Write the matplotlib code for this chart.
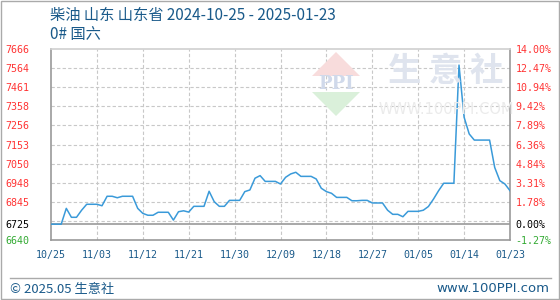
import datetime as dt

import matplotlib
matplotlib.use("Agg")
import matplotlib.pyplot as plt
import numpy as np
from matplotlib.patches import Polygon

plt.rcParams["font.family"] = ["DejaVu Sans", "Noto Sans CJK SC"]
CJK = ["Noto Sans CJK SC", "DejaVu Sans"]
MONO = "DejaVu Sans Mono"

TITLE = "柴油 山东 山东省 2024-10-25 - 2025-01-23"
SUBTITLE = "0# 国六"
START = dt.date(2024, 10, 25)

# daily price, 2024-10-25 .. 2025-01-23
prices = [
    6725, 6725, 6725, 6810, 6762, 6762, 6800, 6832, 6832, 6832,
    6824, 6875, 6875, 6867, 6875, 6875, 6875, 6810, 6783, 6773,
    6773, 6789, 6789, 6789, 6747, 6792, 6797, 6790, 6821, 6821,
    6821, 6902, 6846, 6821, 6821, 6853, 6853, 6853, 6900, 6909,
    6972, 6986, 6955, 6955, 6955, 6941, 6977, 6995, 7004, 6982,
    6982, 6982, 6968, 6918, 6900, 6891, 6869, 6869, 6869, 6851,
    6851, 6853, 6853, 6839, 6839, 6839, 6800, 6778, 6778, 6765,
    6794, 6794, 6794, 6800, 6820, 6860, 6905, 6945, 6945, 6945,
    7580, 7300, 7210, 7177, 7177, 7177, 7177, 7030, 6959, 6941,
    6905,
]
BASE = 6725

left_labels = ["7666", "7564", "7461", "7358", "7256", "7153", "7050",
               "6948", "6845", "6725", "6640"]
right_labels = ["14.00%", "12.47%", "10.94%", "9.42%", "7.89%", "6.36%",
                "4.84%", "3.31%", "1.78%", "0.00%", "-1.27%"]
x_labels = ["10/25", "11/03", "11/12", "11/21", "11/30", "12/09", "12/18",
            "12/27", "01/05", "01/14", "01/23"]

dates = [START + dt.timedelta(days=i) for i in range(len(prices))]
tick_dates = [START + dt.timedelta(days=9 * i) for i in range(len(x_labels))]

RED = "#ff3333"
GREEN = "#33aa33"
BLUE_TXT = "#1a5a8a"
LINE = "#3a9ad9"
GRID = "#c8c8c8"
FRAME = "#999999"


def fx(px):
    return px / 560


def fy(py):
    return 1 - py / 300


fig = plt.figure(figsize=(5.6, 3.0), dpi=100)
ax = fig.add_axes([fx(51), 0.2, 459 / 560, 191 / 300])
ymin, ymax = 6640, 7666.5
ax.set_ylim(ymin, ymax)
ax.set_xlim(dates[0], dates[-1])

# watermark (logo + site name)
wm = dict(transform=fig.transFigure, zorder=0)
fig.patches.append(Polygon([(fx(312), fy(76)), (fx(336), fy(52)), (fx(360), fy(76))],
                           closed=True, facecolor="#f8dcdc", edgecolor="none", **wm))
fig.patches.append(Polygon([(fx(312), fy(92)), (fx(336), fy(116)), (fx(360), fy(92))],
                           closed=True, facecolor="#daf0da", edgecolor="none", **wm))
fig.text(fx(336), fy(84), "PPI", ha="center", va="center", fontsize=13,
         fontweight="bold", color="#d0d9ea", family="DejaVu Serif", **wm)
fig.text(fx(446), fy(72), "生 意 社", ha="center", va="center", fontsize=24,
         fontweight="bold", color="#dfe4ee", family=CJK, **wm)
fig.text(fx(446), fy(110), "WWW.100PPI.COM", ha="center", va="center",
         fontsize=10.5, color="#ebebeb", **wm)
ax.patch.set_alpha(0)

# grid
for yv in np.linspace(ymin, ymax, 11)[1:-1]:
    ax.axhline(yv, color=GRID, lw=0.8, ls=(0, (3, 2)), zorder=1)
for d in tick_dates[1:-1]:
    ax.axvline(d, color=GRID, lw=0.8, ls=(0, (3, 2)), zorder=1)
ax.axhline(BASE, color=FRAME, lw=1.2, zorder=2)

ax.plot(dates, prices, color=LINE, lw=1.1, zorder=3)

for s in ax.spines.values():
    s.set_color(FRAME)
    s.set_linewidth(1.2)
ax.spines["top"].set_color("#d0d0d0")

ax.set_xticks(tick_dates)
ax.set_xticklabels(x_labels, color=BLUE_TXT, fontsize=7.2, family=MONO)
ax.tick_params(axis="x", length=0, pad=7)

ax.set_yticks([float(v) for v in left_labels])
ax.set_yticklabels(left_labels, fontsize=7.2, family=MONO, ha="left")
ax.tick_params(axis="y", length=0, pad=33)
for lbl in ax.get_yticklabels():
    t = lbl.get_text()
    lbl.set_color("black" if t == str(BASE) else GREEN if t == "6640" else RED)

ax2 = ax.twinx()
ax2.set_ylim((ymin / BASE - 1) * 100, (ymax / BASE - 1) * 100)
ax2.set_yticks([float(v.rstrip("%")) for v in right_labels])
ax2.set_yticklabels(right_labels, fontsize=7.2, family=MONO)
ax2.tick_params(axis="y", length=0, pad=4)
for s in ax2.spines.values():
    s.set_visible(False)
for lbl in ax2.get_yticklabels():
    t = lbl.get_text()
    lbl.set_color("black" if t == "0.00%" else GREEN if t.startswith("-") else RED)

fig.text(fx(50), fy(15), TITLE, ha="left", va="center", fontsize=11,
         color=BLUE_TXT, family=CJK)
fig.text(fx(50), fy(35), SUBTITLE, ha="left", va="center", fontsize=11,
         color=BLUE_TXT, family=CJK)

fig.add_artist(plt.Line2D([fx(10), fx(551)], [fy(277.5), fy(277.5)],
                          color="#aaaaaa", lw=1, transform=fig.transFigure))
fig.text(fx(10), fy(289), "© 2025.05 生意社", ha="left", va="center",
         fontsize=9.5, color=BLUE_TXT, family=CJK)
fig.text(fx(549), fy(289), "www.100PPI.com", ha="right", va="center",
         fontsize=9.5, color=BLUE_TXT)
fig.add_artist(plt.Rectangle((0.001, 0.002), 0.997, 0.995, fill=False,
                             edgecolor="#aaaaaa", lw=1, transform=fig.transFigure))

fig.savefig("out.png", dpi=100)
